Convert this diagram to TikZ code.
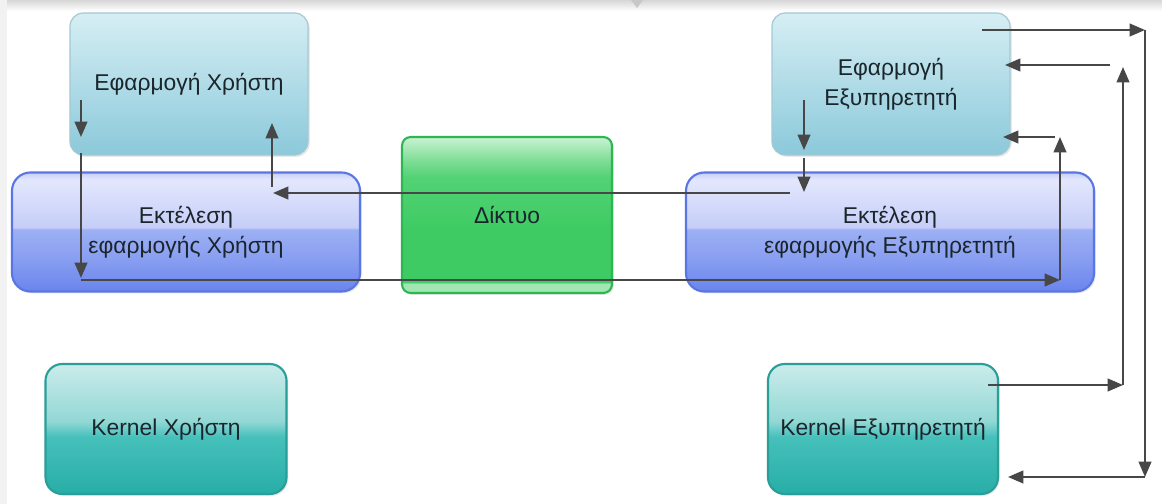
\documentclass[tikz,border=0pt]{standalone}
\usepackage{fontspec}
\setmainfont{Liberation Sans}
\usetikzlibrary{arrows.meta,shadows}

\definecolor{linegray}{HTML}{474747}
\definecolor{txt}{HTML}{1B262C}
\definecolor{apborder}{HTML}{A3C9D4}
\definecolor{aptop}{HTML}{D6EEF4}
\definecolor{apbot}{HTML}{8BC9DA}
\definecolor{blborder}{HTML}{5A76E4}
\definecolor{blA}{HTML}{6A84EC}
\definecolor{blB}{HTML}{879DF1}
\definecolor{blC}{HTML}{9DB0F4}
\definecolor{blD}{HTML}{C6CEF8}
\definecolor{blE}{HTML}{E3E7FD}
\definecolor{grborder}{HTML}{2DB652}
\definecolor{grA}{HTML}{A2E7B3}
\definecolor{grB}{HTML}{3ECB63}
\definecolor{grC}{HTML}{52D274}
\definecolor{grM}{HTML}{7ADC92}
\definecolor{grD}{HTML}{C9F2D3}
\definecolor{knborder}{HTML}{2A9E99}
\definecolor{knA}{HTML}{28ADA7}
\definecolor{knB}{HTML}{46C0BB}
\definecolor{knC}{HTML}{93D8D5}
\definecolor{knD}{HTML}{CAECEB}

\pgfdeclareverticalshading{appshade}{100bp}{color(0bp)=(apbot); color(25bp)=(apbot); color(75bp)=(aptop); color(100bp)=(aptop)}
\pgfdeclareverticalshading{runshade}{100bp}{color(0bp)=(blA); color(25bp)=(blA); color(38bp)=(blB); color(51bp)=(blC); color(52bp)=(blD); color(72bp)=(blE); color(75bp)=(blD); color(100bp)=(blD)}
\pgfdeclareverticalshading{netshade}{100bp}{color(0bp)=(grA); color(25bp)=(grA); color(28bp)=(grA); color(28.5bp)=(grB); color(45bp)=(grB); color(62bp)=(grC); color(67bp)=(grM); color(75bp)=(grD); color(100bp)=(grD)}
\pgfdeclareverticalshading{kernshade}{100bp}{color(0bp)=(knA); color(25bp)=(knA); color(47bp)=(knB); color(53bp)=(knC); color(75bp)=(knD); color(100bp)=(knD)}

\tikzset{
  box/.style={rounded corners=0.4cm, align=center, text=txt, inner sep=0pt,
    font=\fontsize{19.5}{25.6}\selectfont,
    drop shadow={shadow xshift=1.5pt, shadow yshift=-1.5pt, opacity=0.18}},
  appbox/.style={box, shading=appshade, draw=apborder, line width=1pt,
    minimum width=7.14cm, minimum height=4.26cm},
  runbox/.style={box, rounded corners=0.55cm, shading=runshade, draw=blborder,
    line width=1.8pt, minimum height=3.57cm},
  netbox/.style={box, rounded corners=0.26cm, shading=netshade, draw=grborder,
    line width=1.8pt, minimum width=6.3cm, minimum height=4.68cm},
  kernbox/.style={box, rounded corners=0.5cm, shading=kernshade, draw=knborder,
    line width=1.8pt, minimum height=3.9cm},
}

\begin{document}
\begin{tikzpicture}[x=0.03cm, y=-0.03cm, line width=1.7pt,
  >={Triangle[length=0.46cm, width=0.38cm]}]
  \useasboundingbox (0,0) rectangle (1162,504);
  \fill[white] (0,0) rectangle (1162,504);
  \shade[top color=black!16, bottom color=white] (0,0) rectangle (1162,11);
  \fill[black!5] (0,0) rectangle (7,504);
  \fill[black!22] (631,0) -- (643,0) -- (637,8) -- cycle;

  \node [appbox] (appuser) at (189,84) {Εφαρμογή Χρήστη};
  \node [appbox] (appserver) at (891,84) {Εφαρμογή\\Εξυπηρετητή};
  \node [runbox, minimum width=10.44cm] (runuser) at (186,232) {Εκτέλεση\\εφαρμογής Χρήστη};
  \node [runbox, minimum width=12.24cm] (runserver) at (890,232) {Εκτέλεση\\εφαρμογής Εξυπηρετητή};
  \node [netbox] (net) at (507,215) {Δίκτυο};
  \node [kernbox, minimum width=7.23cm] (kernuser) at (166,429) {Kernel Χρήστη};
  \node [kernbox, minimum width=6.9cm] (kernserver) at (883,429) {Kernel Εξυπηρετητή};

  \coordinate (u1) at (81,100);
  \coordinate (u2) at (81,137);
  \coordinate (u3) at (81,153);
  \coordinate (u4) at (81,278);
  \coordinate (u5) at (81,280);
  \coordinate (u6) at (1060,280);
  \coordinate (u7) at (1060,137);
  \coordinate (u8) at (1055,137);
  \coordinate (u9) at (1003,137);

  \coordinate (s1) at (804,100);
  \coordinate (s2) at (804,150);
  \coordinate (s3) at (804,158);
  \coordinate (s4) at (804,192);
  \coordinate (s5) at (790,193);
  \coordinate (s6) at (273,193);
  \coordinate (s7) at (272,187);
  \coordinate (s8) at (272,123);

  \coordinate (k1) at (982,30);
  \coordinate (k2) at (1145,30);
  \coordinate (k3) at (1145,477);
  \coordinate (k4) at (1008,477);
  \coordinate (k5) at (988,385);
  \coordinate (k6) at (1123,385);
  \coordinate (k7) at (1123,67);
  \coordinate (k8) at (1110,65);
  \coordinate (k9) at (1005,65);

  \begin{scope}[draw=linegray]
    \draw [->] (u1) -- (u2);
    \draw [->] (u3) -- (u4);
    \draw [->] (u5) -- (u6);
    \draw [->] (u6) -- (u7);
    \draw [->] (u8) -- (u9);

    \draw [->] (s1) -- (s2);
    \draw [->] (s3) -- (s4);
    \draw [->] (s5) -- (s6);
    \draw [->] (s7) -- (s8);

    \draw [->] (k1) -- (k2);
    \draw [->] (k2) -- (k3);
    \draw [->] (k3) -- (k4);
    \draw [->] (k5) -- (k6);
    \draw [->] (k6) -- (k7);
    \draw [->] (k8) -- (k9);
  \end{scope}
\end{tikzpicture}
\end{document}
